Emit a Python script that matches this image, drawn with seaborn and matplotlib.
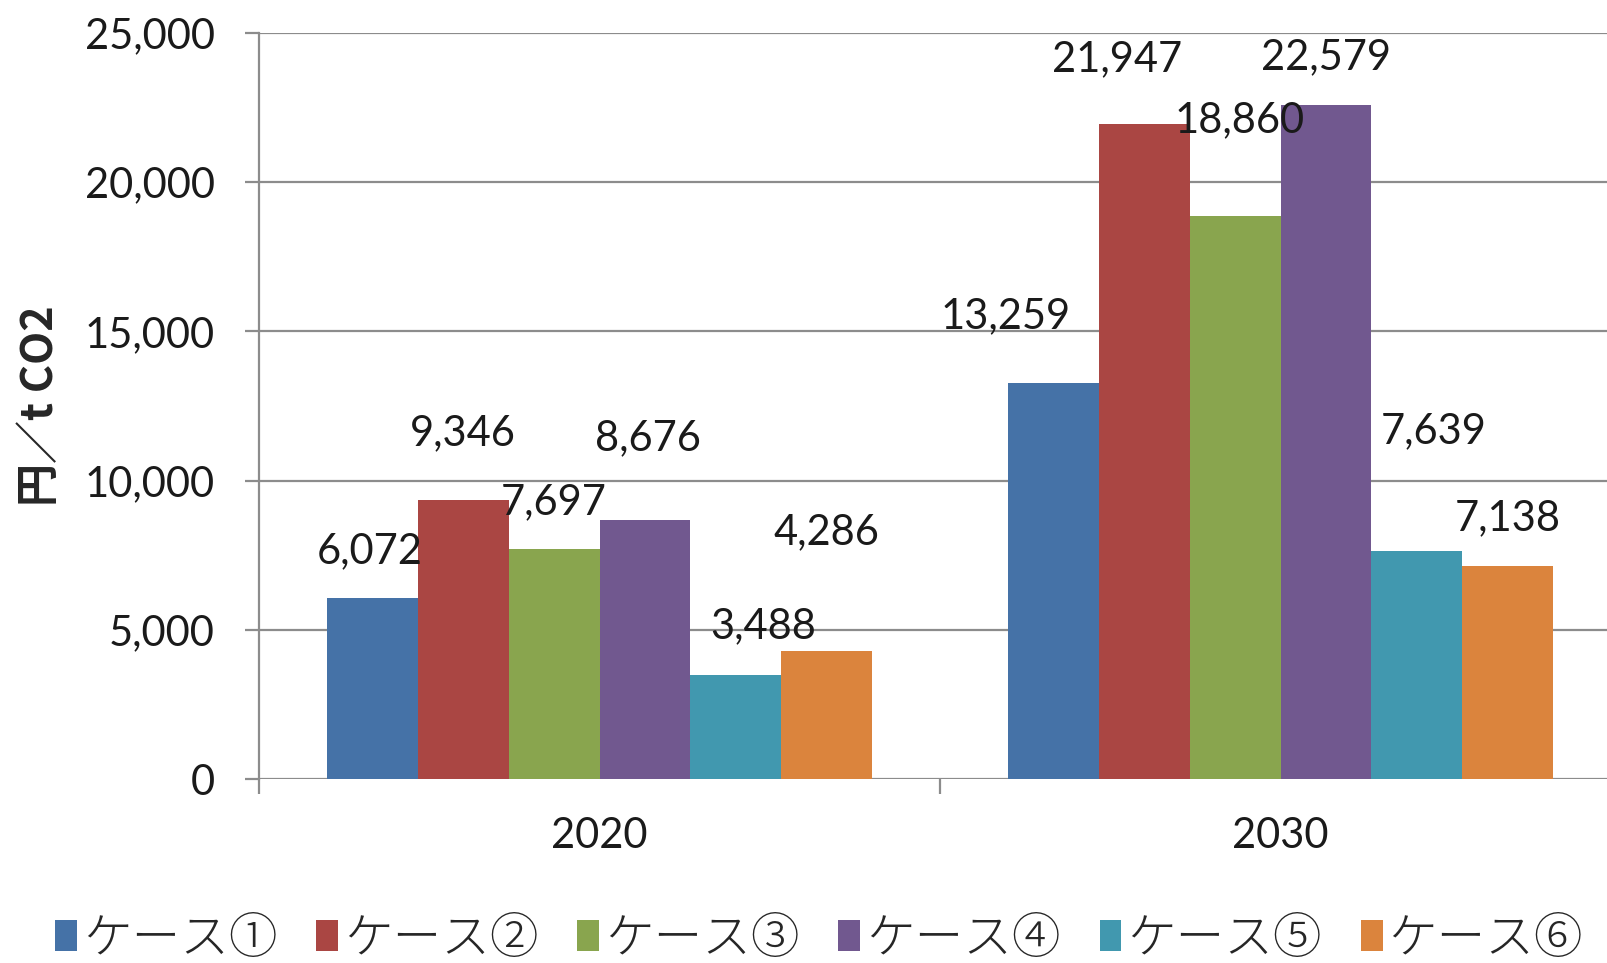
import matplotlib
matplotlib.use("Agg")
import matplotlib.pyplot as plt
from matplotlib.patches import Patch
from matplotlib.ticker import FixedLocator, FuncFormatter
import seaborn as sns
import pandas as pd

# --- data -------------------------------------------------------------
years = ["2020", "2030"]
cases = ["ケース①", "ケース②", "ケース③", "ケース④", "ケース⑤", "ケース⑥"]
values_2020 = [6072, 9346, 7697, 8676, 3488, 4286]
values_2030 = [13259, 21947, 18860, 22579, 7639, 7138]
y_ticks = [0, 5000, 10000, 15000, 20000, 25000]
y_label = "円／t CO2"

colors = ["#4572A7", "#AA4643", "#89A54E", "#71588F", "#4198AF", "#DB843D"]

rows = []
for yr, vals in zip(years, [values_2020, values_2030]):
    for c, v in zip(cases, vals):
        rows.append({"year": yr, "case": c, "value": v})
df = pd.DataFrame(rows)

# label nudges in pixels (dx, dy) from each bar's top centre
label_nudge = {
    "2020": [(-3, 47), (0, 67), (0, 47), (3, 82), (27, 49), (0, 119)],
    "2030": [(-48, 67), (-27, 65), (4, 96), (0, 48), (17, 120), (0, 48)],
}

sns.set_theme(style="white")
plt.rcParams["font.family"] = ["Lato", "Noto Sans CJK JP", "DejaVu Sans"]

W, H = 1607, 963
fig = plt.figure(figsize=(W / 100, H / 100), dpi=100)
ax_left, ax_right = 259, 1621
ax_top, ax_bottom = 33, 779
ax = fig.add_axes([ax_left / W, 1 - ax_bottom / H,
                   (ax_right - ax_left) / W, (ax_bottom - ax_top) / H])

sns.barplot(data=df, x="year", y="value", hue="case", palette=colors,
            width=0.8, saturation=1, errorbar=None, linewidth=0, ax=ax,
            legend=False)

grid_col = "#8C8C8C"
ax.set_ylim(0, 25000)
ax.set_xlim(-0.5, 1.5)
ax.yaxis.set_major_locator(FixedLocator(y_ticks))
ax.yaxis.set_major_formatter(FuncFormatter(lambda v, p: f"{int(v):,}"))
ax.set_axisbelow(True)
ax.grid(axis="y", color=grid_col, linewidth=1.6)
ax.grid(axis="x", visible=False)

for s in ["top", "right", "bottom"]:
    ax.spines[s].set_visible(False)
ax.spines["left"].set_color(grid_col)
ax.spines["left"].set_linewidth(1.6)

ax.tick_params(axis="y", which="major", direction="out", length=10,
               width=1.6, color=grid_col, pad=22, labelsize=30,
               labelcolor="#1a1a1a", left=True)
ax.tick_params(axis="x", which="major", length=0, pad=27, labelsize=30,
               labelcolor="#1a1a1a")
ax.xaxis.set_minor_locator(FixedLocator([-0.5, 0.5, 1.5]))
ax.tick_params(axis="x", which="minor", direction="out", length=11,
               width=1.6, color=grid_col, bottom=True)

ax.set_xlabel("")
ax.set_ylabel(y_label, fontsize=31, fontweight="bold",
              family=["Noto Sans CJK JP", "DejaVu Sans"], va="center")
ax.yaxis.set_label_coords((40 - ax_left) / (ax_right - ax_left), 0.5)

# value labels
for i, container in enumerate(ax.containers):
    for j, bar in enumerate(container):
        v = [values_2020, values_2030][j][i]
        dx, dy = label_nudge[years[j]][i]
        ax.annotate(f"{v:,}", xy=(bar.get_x() + bar.get_width() / 2, bar.get_height()),
                    xytext=(dx, dy), textcoords="offset pixels",
                    ha="center", va="center", fontsize=30, color="#1a1a1a",
                    annotation_clip=False)

handles = [Patch(facecolor=c, edgecolor="none") for c in colors]
leg = fig.legend(handles, cases, loc="center", ncol=6, frameon=False,
                 bbox_to_anchor=(819 / W, 24 / H),
                 prop={"family": ["Noto Sans CJK JP", "DejaVu Sans"],
                       "size": 35, "weight": "light"},
                 handlelength=0.45, handleheight=0.6, handletextpad=0.12,
                 columnspacing=0.8, borderaxespad=0)

fig.savefig("out.png", dpi=100)
